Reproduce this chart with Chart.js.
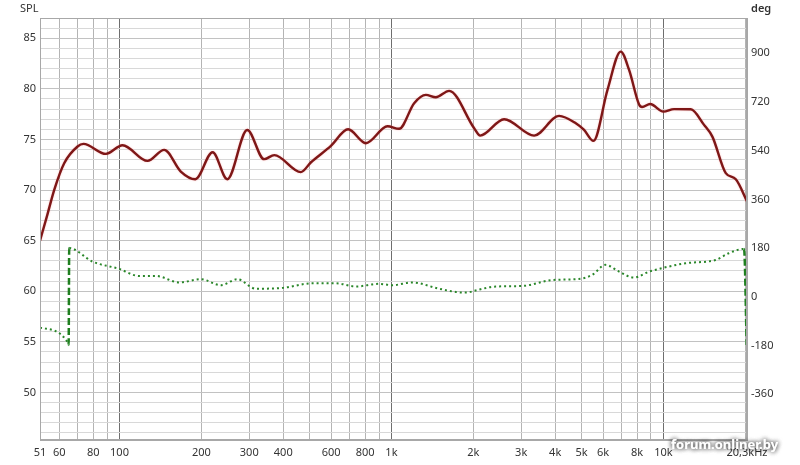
<!DOCTYPE html>
<html><head><meta charset="utf-8">
<script src="https://cdn.jsdelivr.net/npm/chart.js@4.4.0/dist/chart.umd.min.js"></script>
<style>html,body{margin:0;padding:0;background:#fff}#wrap{width:800px;height:465px;position:relative}</style>
</head><body><div id="wrap"><canvas id="c" width="800" height="465"></canvas></div>
<script>
// SPL (dB) response
const splFreq = [51, 54.2, 57.5, 62.6, 70.1, 73.7, 89.1, 102.6, 126.7, 146, 168, 190, 220, 249, 295, 340, 371, 464, 505, 599, 693, 805, 967, 1067, 1212, 1338, 1456, 1630, 2014, 2119, 2596, 3347, 4135, 4764, 5110, 5530, 6230, 6970, 7480, 8140, 8350, 8940, 10000, 10950, 12610, 14110, 15140, 16960, 18460, 20300];
const splDb   = [65.0, 67.5, 70.0, 72.65, 74.3, 74.56, 73.57, 74.43, 72.88, 73.97, 71.83, 71.07, 73.74, 71.07, 75.94, 73.05, 73.45, 71.77, 72.72, 74.36, 76.0, 74.63, 76.3, 76.05, 78.58, 79.4, 79.17, 79.8, 76.11, 75.38, 77.0, 75.38, 77.33, 76.6, 75.94, 74.86, 79.9, 83.68, 81.87, 78.45, 78.2, 78.5, 77.75, 78.0, 77.99, 76.44, 75.28, 71.67, 71.07, 68.9];
// Phase (deg)
const phaseFreq = [51, 64.9, 65.0, 65.3, 79.6, 99.7, 118, 136, 166, 199, 236, 271, 317, 398, 512, 624, 740, 898, 1006, 1196, 1496, 1825, 1932, 2017, 2420, 3030, 3900, 4890, 5470, 6130, 6870, 7800, 8860, 9900, 12060, 15540, 17400, 19800, 20250];
const phaseDeg  = [-114, -173, -178, 180, 130, 103, 77, 77, 53, 65, 43, 65, 30, 33, 50, 50, 38, 48, 43, 53, 30, 16, 17, 22, 38, 40, 62, 66, 81, 118, 93, 71, 93, 106, 124, 136, 161, 177, -178];
// Axis ticks
const xTickValues = [51, 60, 70, 80, 90, 100, 200, 300, 400, 500, 600, 700, 800, 900, 1000, 2000, 3000, 4000, 5000, 6000, 7000, 8000, 9000, 10000, 20000, 20300];
const xLabelValues = [51, 60, 80, 100, 200, 300, 400, 600, 800, 1000, 2000, 3000, 4000, 5000, 6000, 8000, 10000, 20300];
const xLabelTexts  = ['51', '60', '80', '100', '200', '300', '400', '600', '800', '1k', '2k', '3k', '4k', '5k', '6k', '8k', '10k', '20,3kHz'];
const yTickValues = [46,47,48,49,50,51,52,53,54,55,56,57,58,59,60,61,62,63,64,65,66,67,68,69,70,71,72,73,74,75,76,77,78,79,80,81,82,83,84,85,86];
const yLabelValues = [50, 55, 60, 65, 70, 75, 80, 85];
const y2TickValues = [-360, -180, 0, 180, 360, 540, 720, 900];

const FONT = 'Noto Sans';
const splData = splFreq.map((f, i) => ({x: f, y: splDb[i]}));
const phaseData = phaseFreq.map((f, i) => ({x: f, y: phaseDeg[i]}));

const decorPlugin = {
  id: 'decor',
  beforeDatasetDraw(chart, args) {
    if (args.index === 1) {
      const ctx = chart.ctx; ctx.save();
      ctx.shadowColor = 'rgba(255,130,130,0.45)'; ctx.shadowBlur = 2;
    }
  },
  afterDatasetDraw(chart, args) {
    if (args.index === 1) chart.ctx.restore();
  },
  afterDraw(chart) {
    const ctx = chart.ctx, a = chart.chartArea;
    ctx.save();
    ctx.strokeStyle = '#a8a8a8'; ctx.lineWidth = 1;
    ctx.strokeRect(Math.round(a.left) + 0.5, Math.round(a.top) + 0.5, Math.round(a.right - a.left) - 1, Math.round(a.bottom - a.top) - 1);
    ctx.fillStyle = '#333';
    ctx.font = '11px "' + FONT + '"';
    ctx.textBaseline = 'alphabetic';
    ctx.textAlign = 'left';
    ctx.fillText('SPL', 20, 12);
    ctx.font = '600 11px "' + FONT + '"';
    ctx.fillText('deg', 751, 12);
    // watermark
    ctx.font = 'bold 13px "' + FONT + '"';
    ctx.shadowColor = 'rgba(0,0,0,0.65)'; ctx.shadowBlur = 5;
    ctx.fillStyle = '#ffffff';
    ctx.fillText('forum.onliner.by', 671, 449);
    ctx.fillText('forum.onliner.by', 671, 449);
    ctx.restore();
  }
};

new Chart(document.getElementById('c'), {
  type: 'line',
  data: {
    datasets: [
      {
        data: phaseData, yAxisID: 'y2', xAxisID: 'x',
        borderColor: '#2a872a', borderWidth: 2, pointRadius: 0,
        borderDash: [2, 3], cubicInterpolationMode: 'monotone',
        segment: {
          borderDash: c => Math.abs(c.p1.parsed.y - c.p0.parsed.y) > 200 ? [7, 3] : [2, 3],
          borderColor: c => Math.abs(c.p1.parsed.y - c.p0.parsed.y) > 200 ? '#1f7f1f' : '#2a872a',
          borderWidth: c => Math.abs(c.p1.parsed.y - c.p0.parsed.y) > 200 ? 2.5 : 2
        }
      },
      {
        data: splData, yAxisID: 'y', xAxisID: 'x',
        borderColor: '#7e1717', borderWidth: 2.4, pointRadius: 0,
        cubicInterpolationMode: 'monotone'
      }
    ]
  },
  options: {
    responsive: false, animation: false, devicePixelRatio: 1,
    layout: {padding: {top: 18, left: 0, right: 0, bottom: 0}},
    plugins: {legend: {display: false}, tooltip: {enabled: false}},
    scales: {
      x: {
        type: 'logarithmic', min: 51, max: 20300,
        afterFit: s => { s.height = 25; },
        afterBuildTicks: s => { s.ticks = xTickValues.map(v => ({value: v})); },
        border: {display: true, color: '#a8a8a8'},
        grid: {
          drawTicks: false,
          color: c => {
            const v = c.tick ? c.tick.value : 0;
            if (v === 51 || v === 20300) return 'rgba(0,0,0,0)';
            if (v === 100 || v === 1000 || v === 10000) return '#6e6e6e';
            return '#b4b4b4';
          }
        },
        ticks: {
          autoSkip: false, maxRotation: 0, minRotation: 0, padding: 6, color: '#333',
          font: {family: FONT, size: 11},
          callback: (v) => { const i = xLabelValues.indexOf(v); return i >= 0 ? xLabelTexts[i] : ''; }
        }
      },
      y: {
        position: 'left', min: 45.3, max: 87,
        afterFit: s => { s.width = 40; },
        afterBuildTicks: s => { s.ticks = yTickValues.map(v => ({value: v})); },
        border: {display: true, color: '#a8a8a8'},
        grid: {
          drawTicks: false,
          color: c => (c.tick && c.tick.value % 5 === 0) ? '#c2c2c2' : '#d8d8d8'
        },
        ticks: {
          autoSkip: false, padding: 4, color: '#333',
          font: {family: FONT, size: 11},
          callback: v => yLabelValues.includes(v) ? String(v) : ''
        }
      },
      y2: {
        position: 'right', min: -529, max: 1030,
        afterFit: s => { s.width = 53; },
        afterBuildTicks: s => { s.ticks = y2TickValues.map(v => ({value: v})); },
        border: {display: true, color: '#a8a8a8'},
        grid: {display: false, drawTicks: false},
        ticks: {
          autoSkip: false, padding: 4, color: '#333',
          font: {family: FONT, size: 11},
          callback: v => String(v)
        }
      }
    }
  },
  plugins: [decorPlugin]
});
</script>
</body></html>
